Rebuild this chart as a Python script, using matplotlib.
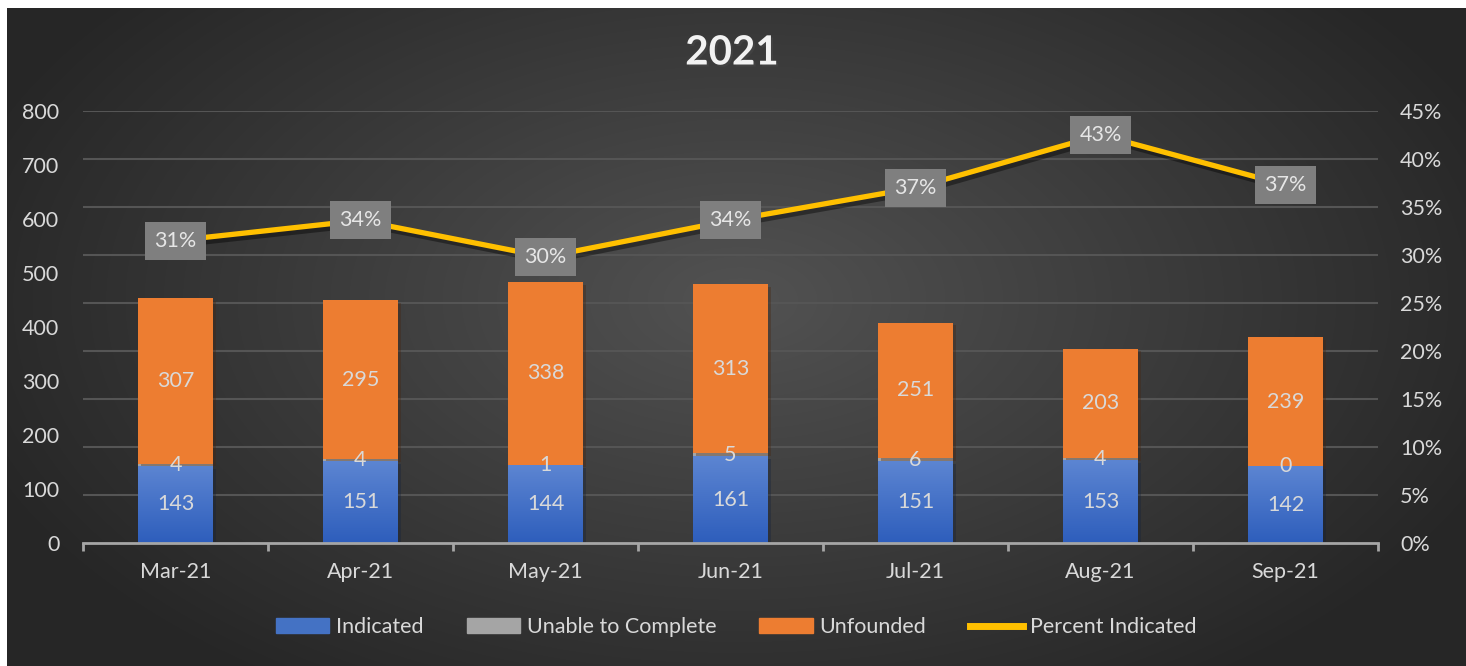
import numpy as np
import matplotlib
matplotlib.use('Agg')
import matplotlib.pyplot as plt
import matplotlib.patheffects as pe
from matplotlib.patches import Patch
from matplotlib.lines import Line2D
from matplotlib.colors import LinearSegmentedColormap

plt.rcParams['font.family'] = ['Lato', 'DejaVu Sans']

# data
months = ['Mar-21', 'Apr-21', 'May-21', 'Jun-21', 'Jul-21', 'Aug-21', 'Sep-21']
indicated = [143, 151, 144, 161, 151, 153, 142]
unable = [4, 4, 1, 5, 6, 4, 0]
unfounded = [307, 295, 338, 313, 251, 203, 239]
pct = [0.315, 0.336, 0.298, 0.336, 0.370, 0.425, 0.373]
pct_labels = ['31%', '34%', '30%', '34%', '37%', '43%', '37%']

W, H = 1466, 666
fs = 15.5
txtc = '#d9d9d9'
c_blue = '#4472C4'
c_gray = '#A5A5A5'
c_orange = '#ED7D31'
c_yellow = '#FFC000'

fig = plt.figure(figsize=(W / 100, H / 100), dpi=100)
fig.patch.set_facecolor('white')

# radial dark background
bg = fig.add_axes([7 / W, 0, 1 - 7 / W, (H - 8) / H], zorder=0)
xx, yy = np.meshgrid(np.arange(7, W), np.arange(8, H))
d = np.sqrt(((xx - 740) / 820.0) ** 2 + ((yy - 300) / 470.0) ** 2)
d = np.clip(d, 0, 1)
bg_cmap = LinearSegmentedColormap.from_list('bgc', ['#525252', '#262626'])
bg.imshow(d, cmap=bg_cmap, aspect='auto', vmin=0, vmax=1, interpolation='bilinear')
bg.set_axis_off()

ax = fig.add_axes([83 / W, (H - 543) / H, (1378 - 83) / W, (543 - 111) / H], zorder=1)
ax.patch.set_visible(False)
x = np.arange(len(months))
bw = 0.405

# gridlines follow the right axis ticks
for g in np.linspace(0, 800, 10)[1:]:
    ax.axhline(g, color='#555555', lw=1.5, zorder=0.5)

shadow = [pe.SimplePatchShadow(offset=(2, -2), alpha=0.35), pe.Normal()]
b1 = ax.bar(x, indicated, bw, color=c_blue, zorder=2, path_effects=shadow)
b2 = ax.bar(x, unable, bw, bottom=indicated, color=c_gray, zorder=2)
bot3 = np.array(indicated) + np.array(unable)
b3 = ax.bar(x, unfounded, bw, bottom=bot3, color=c_orange, zorder=2, path_effects=shadow)

# vertical gradient on the blue segments
grad = np.linspace(0, 1, 100).reshape(-1, 1)
blue_cmap = LinearSegmentedColormap.from_list('bl', ['#2E5EBC', '#5C85D2'])
for p in b1:
    im = ax.imshow(grad, cmap=blue_cmap, origin='lower', aspect='auto',
                   extent=[p.get_x(), p.get_x() + p.get_width(), 0, p.get_height()],
                   zorder=2.1)
    im.set_clip_path(p)

for i in range(len(months)):
    ax.text(i, indicated[i] / 2, str(indicated[i]), ha='center', va='center',
            color=txtc, fontsize=fs, zorder=5)
    ax.text(i, indicated[i] + unable[i] / 2, str(unable[i]), ha='center', va='center',
            color=txtc, fontsize=fs, zorder=5)
    ax.text(i, bot3[i] + unfounded[i] / 2, str(unfounded[i]), ha='center', va='center',
            color=txtc, fontsize=fs, zorder=5)

ax.set_xlim(-0.5, len(months) - 0.5)
ax.set_ylim(0, 800)
ax.set_yticks(range(0, 801, 100))
ax.set_xticks(x)
ax.set_xticklabels(months)
ax.set_xticks(np.arange(-0.5, len(months)), minor=True)
ax.tick_params(axis='x', which='major', length=0, pad=14, labelsize=fs, labelcolor=txtc)
ax.tick_params(axis='x', which='minor', length=6, width=2, color='#a6a6a6', direction='out')
ax.tick_params(axis='y', length=0, pad=17, labelsize=fs, labelcolor=txtc)
for s in ['top', 'right', 'left']:
    ax.spines[s].set_visible(False)
ax.spines['bottom'].set_color('#a6a6a6')
ax.spines['bottom'].set_linewidth(2)
ax.spines['bottom'].set_zorder(3)

ax2 = ax.twinx()
ax2.set_zorder(2)
ax2.patch.set_visible(False)
ax2.plot(x, pct, color=c_yellow, lw=3.8, solid_capstyle='round', zorder=3,
         path_effects=[pe.SimpleLineShadow(offset=(2, -3), alpha=0.4, shadow_color='black'),
                       pe.Normal()])
for i in range(len(months)):
    ax2.text(i, pct[i], pct_labels[i], ha='center', va='center', color='#e6e6e6',
             fontsize=fs, zorder=4,
             bbox=dict(boxstyle='square,pad=0.42', fc='#7f7f7f', ec='none'))
ax2.set_ylim(0, 0.45)
ax2.set_yticks(np.arange(0, 0.451, 0.05))
ax2.set_yticklabels([f'{v}%' for v in range(0, 46, 5)])
ax2.tick_params(axis='y', length=0, pad=16, labelsize=fs, labelcolor=txtc)
for s in ax2.spines.values():
    s.set_visible(False)

fig.text(732 / W, 1 - 53 / H, '2021', ha='center', va='center', fontsize=29,
         fontweight='bold', color='#f2f2f2',
         path_effects=[pe.withSimplePatchShadow(offset=(1.5, -1.5), alpha=0.5)])

handles = [Patch(color=c_blue), Patch(color=c_gray), Patch(color=c_orange),
           Line2D([0], [0], color=c_yellow, lw=5)]
labels = ['Indicated', 'Unable to Complete', 'Unfounded', 'Percent Indicated']
fig.legend(handles, labels, loc='center', bbox_to_anchor=(736 / W, 1 - 627 / H),
           ncol=4, frameon=False, fontsize=fs, labelcolor=txtc, handlelength=2.5,
           handleheight=0.65, handletextpad=0.3, columnspacing=2.0)

fig.savefig('out.png', dpi=100, facecolor=fig.get_facecolor())
